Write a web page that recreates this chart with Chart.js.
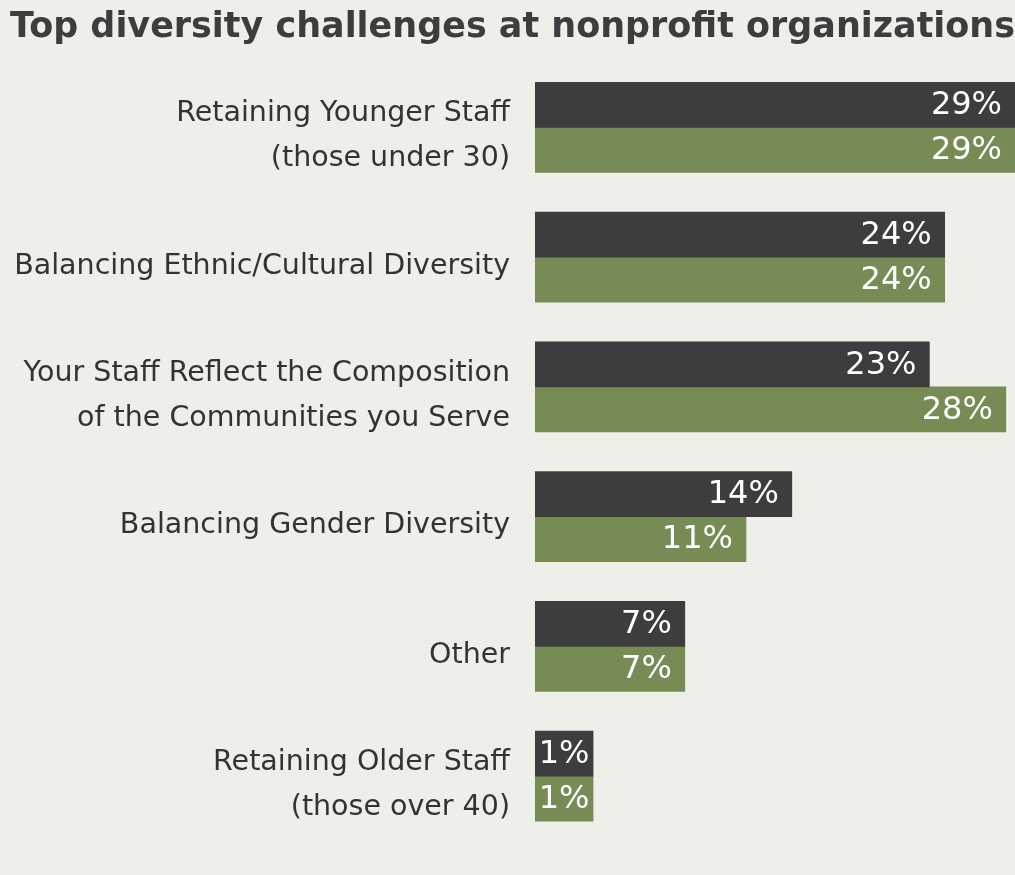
<!DOCTYPE html>
<html>
<head>
<meta charset="utf-8">
<script src="https://cdn.jsdelivr.net/npm/chart.js@4"></script>
<style>
  html, body { margin: 0; padding: 0; background: #edefe8; }
  #wrap { width: 1015px; height: 875px; }
</style>
</head>
<body>
<div id="wrap"><canvas id="chart"></canvas></div>
<script>
// --- data ---
const categories = [
  ['Retaining Younger Staff', '(those under 30)'],
  'Balancing Ethnic/Cultural Diversity',
  ['Your Staff Reflect the Composition', 'of the Communities you Serve'],
  'Balancing Gender Diversity',
  'Other',
  ['Retaining Older Staff', '(those over 40)']
];
const seriesDark = [29, 24, 23, 14, 7, 1];
const seriesGreen = [29, 24, 28, 11, 7, 1];

const FONT = '"DejaVu Sans", sans-serif';
const BASE = -2.8;

// background fill
const bgPlugin = {
  id: 'bg',
  beforeDraw(chart) {
    const c = chart.ctx;
    c.save();
    c.fillStyle = '#edefe8';
    c.fillRect(0, 0, chart.width, chart.height);
    c.restore();
  }
};

// white value labels at the inner end of each bar
const valueLabels = {
  id: 'valueLabels',
  afterDatasetsDraw(chart) {
    const c = chart.ctx;
    const area = chart.chartArea;
    c.save();
    c.font = '32px ' + FONT;
    c.fillStyle = '#ffffff';
    c.textBaseline = 'middle';
    chart.data.datasets.forEach((ds, i) => {
      chart.getDatasetMeta(i).data.forEach((bar, j) => {
        const txt = ds.data[j] + '%';
        const end = Math.min(bar.x, area.right);
        const w = c.measureText(txt).width;
        if (end - bar.base < w + 20) {
          // narrow bar: center the label
          c.textAlign = 'center';
          c.fillText(txt, (bar.base + end) / 2, bar.y + 1);
        } else {
          c.textAlign = 'right';
          c.fillText(txt, end - 13, bar.y + 1);
        }
      });
    });
    c.restore();
  }
};

new Chart(document.getElementById('chart'), {
  type: 'bar',
  data: {
    labels: categories,
    datasets: [
      { data: seriesDark, backgroundColor: '#3d3d3d', base: BASE, barThickness: 45 },
      { data: seriesGreen, backgroundColor: '#778c54', base: BASE, barThickness: 45 }
    ]
  },
  options: {
    indexAxis: 'y',
    responsive: true,
    maintainAspectRatio: false,
    animation: false,
    layout: { padding: { top: 5, bottom: 34, left: 10, right: 0 } },
    plugins: {
      legend: { display: false },
      tooltip: { enabled: false },
      title: {
        display: true,
        text: 'Top diversity challenges at nonprofit organizations',
        align: 'start',
        color: '#3d3d3d',
        font: { family: FONT, size: 35, weight: 'bold', lineHeight: 1.3 },
        padding: { top: 0, bottom: 12 }
      }
    },
    scales: {
      x: {
        display: false,
        min: BASE,
        max: 28.6
      },
      y: {
        grid: { display: false, drawTicks: false },
        border: { display: false },
        ticks: {
          color: '#333333',
          padding: 25,
          labelOffset: 9,
          font: { family: FONT, size: 28.5, lineHeight: 1.58 }
        },
        afterFit(scale) {
          scale.width = 525;
          scale.paddingTop = 0;
          scale.paddingBottom = 0;
        }
      }
    }
  },
  plugins: [bgPlugin, valueLabels]
});
</script>
</body>
</html>
